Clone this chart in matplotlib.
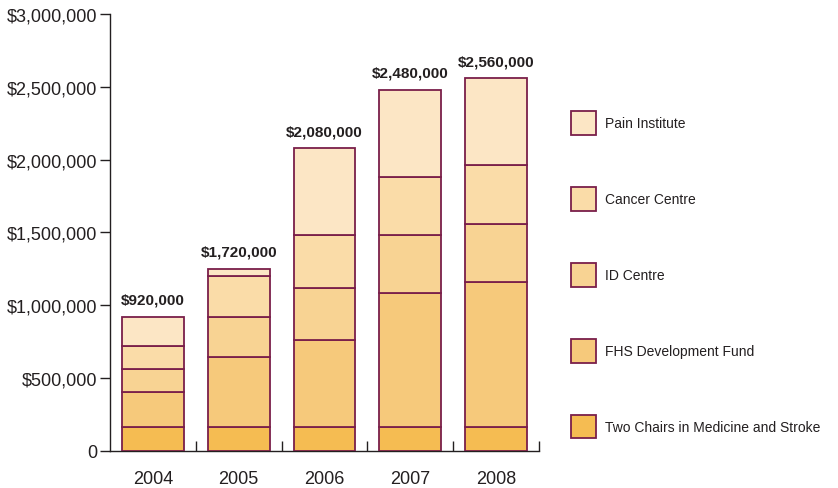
import matplotlib
matplotlib.use("Agg")
import matplotlib.pyplot as plt
from matplotlib.patches import Patch
from matplotlib.ticker import FuncFormatter
import numpy as np

YEARS = ["2004", "2005", "2006", "2007", "2008"]
TOTAL_LABELS = ["$920,000", "$1,720,000", "$2,080,000", "$2,480,000", "$2,560,000"]

# segment values in dollars, bottom to top
TWO_CHAIRS = [160000, 160000, 160000, 160000, 160000]
FHS_FUND = [240000, 480000, 600000, 920000, 1000000]
ID_CENTRE = [160000, 280000, 360000, 400000, 400000]
CANCER_CENTRE = [160000, 280000, 360000, 400000, 400000]
PAIN_INSTITUTE = [200000, 50000, 600000, 600000, 600000]

SERIES = [
    ("Two Chairs in Medicine and Stroke", TWO_CHAIRS, "#f5bc52"),
    ("FHS Development Fund", FHS_FUND, "#f6c97b"),
    ("ID Centre", ID_CENTRE, "#f8d393"),
    ("Cancer Centre", CANCER_CENTRE, "#fadca8"),
    ("Pain Institute", PAIN_INSTITUTE, "#fce6c5"),
]
EDGE = "#7a1f4a"
TEXT = "#231f20"

plt.rcParams["font.family"] = ["Liberation Sans", "DejaVu Sans"]

fig = plt.figure(figsize=(8.38, 4.89), dpi=100)
ax = fig.add_axes([110 / 838, 1 - 451.6 / 489, 429 / 838, 436.6 / 489])

x = np.arange(len(YEARS))
bottom = np.zeros(len(YEARS))
for name, vals, color in SERIES:
    ax.bar(x, vals, width=0.72, bottom=bottom, color=color,
           edgecolor=EDGE, linewidth=1.3, zorder=3)
    bottom += np.array(vals)

for xi, top, lab in zip(x, bottom, TOTAL_LABELS):
    ax.annotate(lab, (xi, top), xytext=(0, 7), textcoords="offset points",
                ha="center", va="bottom", fontsize=11, fontweight="bold",
                color=TEXT)

ax.set_xlim(-0.5, len(YEARS) - 0.5)
ax.set_ylim(0, 3000000)
ax.set_yticks(np.arange(0, 3000001, 500000))
ax.yaxis.set_major_formatter(FuncFormatter(lambda v, _: "0" if v == 0 else f"${v:,.0f}"))
ax.tick_params(axis="y", direction="out", length=7, width=1, labelsize=13,
               colors=TEXT, pad=2)

# year labels centred, ticks on category boundaries pointing up
ax.set_xticks(x)
ax.set_xticklabels(YEARS)
ax.tick_params(axis="x", which="major", length=0, labelsize=13, colors=TEXT, pad=14)
ax.set_xticks(np.arange(0.5, len(YEARS)), minor=True)
ax.tick_params(axis="x", which="minor", direction="in", length=7, width=1, color=TEXT)

for side in ("top", "right"):
    ax.spines[side].set_visible(False)
for side in ("left", "bottom"):
    ax.spines[side].set_color(TEXT)
    ax.spines[side].set_linewidth(1)

handles = [Patch(facecolor=c, edgecolor=EDGE, linewidth=1.3, label=n) for n, _, c in SERIES][::-1]
fig.legend(handles=handles, loc="upper left", bbox_to_anchor=(571 / 838, 1 - 112 / 489),
           frameon=False, fontsize=10, handlelength=1.8, handleheight=2.25,
           handletextpad=0.65, labelspacing=3.76, borderaxespad=0, borderpad=0,
           labelcolor=TEXT)

fig.savefig("out.png", dpi=100)
